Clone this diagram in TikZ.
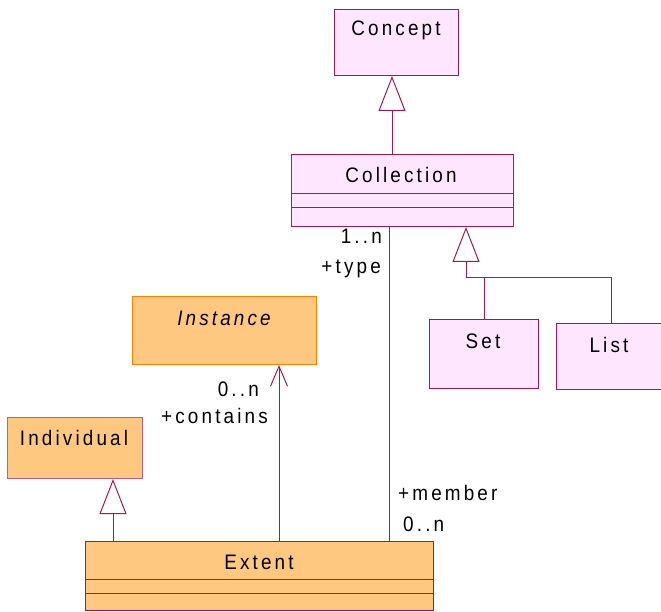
\documentclass[tikz,border=0pt]{standalone}
\usepackage{fontspec}
\setmainfont{Liberation Sans}[LetterSpace=15,FakeStretch=0.9]
\usetikzlibrary{arrows.meta}
\definecolor{pinkfill}{HTML}{FFE6FF}
\definecolor{maroon}{HTML}{A8184E}
\definecolor{orangefill}{HTML}{FFC880}
\definecolor{orangeline}{HTML}{FF8000}
\begin{document}
\begin{tikzpicture}[x=1pt,y=-1pt,
  box/.style={draw=maroon, line width=1pt, inner sep=0pt, anchor=north west},
  pinkbox/.style={box, fill=pinkfill},
  orangebox/.style={box, fill=orangefill},
  title/.style={anchor=base, inner sep=0pt, font=\fontsize{21}{25}\selectfont},
  lbl/.style={inner sep=0pt, font=\fontsize{21}{25}\selectfont},
  conn/.style={draw=maroon, line width=1pt},
  gen/.style={conn, -{Triangle[open, width=27pt, length=35pt]}},
  nav/.style={conn, -{Straight Barb[width=17pt, length=20pt]}}]
\useasboundingbox (0,0) rectangle (661,612);

% boxes
\node[pinkbox, minimum width=124pt, minimum height=66pt] (concept) at (334,9) {};
\node[title] (concepttxt) at (396,36) {Concept};

\node[pinkbox, minimum width=222pt, minimum height=72pt] (collection) at (291,154) {};
\node[title] (collectiontxt) at (401,183) {Collection};
\coordinate (cc1) at (0,194);
\coordinate (cc2) at (0,208);
\draw[conn] (collection.west |- cc1) -- (collection.east |- cc1);
\draw[conn] (collection.west |- cc2) -- (collection.east |- cc2);

\node[pinkbox, minimum width=109pt, minimum height=69pt] (set) at (429,319) {};
\node[title] (settxt) at (483,348) {Set};

\node[pinkbox, minimum width=108pt, minimum height=66pt] (list) at (556,323) {};
\node[title] (listtxt) at (609,352) {List};

\node[orangebox, draw=orangeline, minimum width=184pt, minimum height=68pt] (instance) at (132,296) {};
\node[title] (instancetxt) at (224,325) {\itshape Instance};

\node[orangebox, draw=maroon!70, minimum width=135pt, minimum height=61pt] (individual) at (7,417) {};
\node[title] (individualtxt) at (74,445) {Individual};

\node[orangebox, minimum width=348pt, minimum height=69pt] (extent) at (85,541) {};
\node[title] (extenttxt) at (259,569) {Extent};
\coordinate (ec1) at (0,579);
\coordinate (ec2) at (0,593);
\draw[conn] (extent.west |- ec1) -- (extent.east |- ec1);
\draw[conn] (extent.west |- ec2) -- (extent.east |- ec2);

% connectors
\coordinate (xc) at (392,0);
\draw[gen] (collection.north -| xc) -- (concept.south -| xc);

\coordinate (junc) at (466,278);
\coordinate (xl) at (611,0);
\draw[conn] (set.north) -- (set.north |- junc);
\draw[gen] (list.north -| xl) |- (junc) -- (collection.south -| junc);

\coordinate (xi) at (113,0);
\draw[gen] (extent.north -| xi) -- (individual.south -| xi);

\coordinate (xa) at (279,0);
\draw[nav] (extent.north -| xa) -- (instance.south -| xa);

\coordinate (xm) at (389,0);
\draw[conn] (extent.north -| xm) -- (collection.south -| xm);

% labels
\node[lbl, anchor=base east] (m1) at (382,244) {1..n};
\node[lbl, anchor=base east] (r1) at (381,273) {+type};
\node[lbl, anchor=base east] (m2) at (259,396) {0..n};
\node[lbl, anchor=base east] (r2) at (268,423) {+contains};
\node[lbl, anchor=base west] (r3) at (398,500) {+member};
\node[lbl, anchor=base west] (m3) at (403,531) {0..n};
\end{tikzpicture}
\end{document}
